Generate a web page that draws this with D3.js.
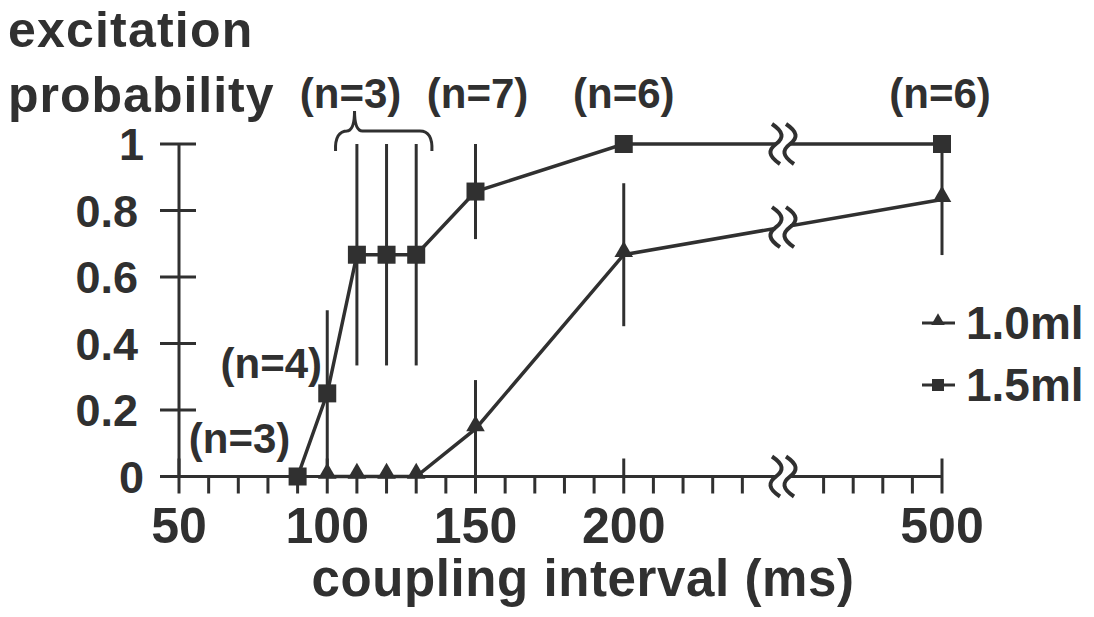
<!DOCTYPE html>
<html>
<head>
<meta charset="utf-8">
<script src="https://cdn.jsdelivr.net/npm/d3@7"></script>
<style>
  body { margin: 0; background: #fff; }
  text { font-family: "Liberation Sans", Arial, sans-serif; font-weight: bold; fill: #303030; }
</style>
</head>
<body>
<div id="chart"></div>
<script>
// 1.5 ml series (squares)
const intervals15 = [90, 100, 110, 120, 130, 150, 200, 500];
const prob15 = [0, 0.25, 0.667, 0.667, 0.667, 0.857, 1, 1];
const err15 = [0, 0.25, 0.333, 0.333, 0.333, 0.143, 0, 0];

// 1.0 ml series (triangles)
const intervals10 = [100, 110, 120, 130, 150, 200, 500];
const prob10 = [0, 0, 0, 0, 0.143, 0.667, 0.833];
const err10 = [0, 0, 0, 0, 0.147, 0.215, 0.167];

const xMajor = [50, 100, 150, 200, 500];
const xMinor = [60, 70, 80, 90, 110, 120, 130, 140, 160, 170, 180, 190, 210, 220, 230, 240, 460, 470, 480, 490];
const yTicks = [0, 0.2, 0.4, 0.6, 0.8, 1];

const nText = ["(n=3)", "(n=4)", "(n=3)", "(n=7)", "(n=6)", "(n=6)"];
const nAt = [90, 100, 120, 150, 200, 500];

const ink = "#303030";
const W = 1094, H = 617;

const svg = d3.select("#chart").append("svg")
    .attr("width", W)
    .attr("height", H);

// broken x axis: 250..450 squeezed into the gap
const x = d3.scaleLinear()
    .domain([50, 250, 450, 500])
    .range([179, 772, 794, 942]);
const breakAt = 350;

const y = d3.scaleLinear()
    .domain([0, 1])
    .range([476.5, 144]);

// x axis line
svg.append("line")
    .attr("x1", x(50)).attr("x2", x(500))
    .attr("y1", y(0)).attr("y2", y(0))
    .attr("stroke", ink).attr("stroke-width", 3);

// x ticks
svg.selectAll(".xmaj")
    .data(xMajor)
    .enter().append("line")
    .attr("x1", d => x(d)).attr("x2", d => x(d))
    .attr("y1", y(0) - 18).attr("y2", y(0) + 17)
    .attr("stroke", ink).attr("stroke-width", 3);

svg.selectAll(".xmin")
    .data(xMinor)
    .enter().append("line")
    .attr("x1", d => x(d)).attr("x2", d => x(d))
    .attr("y1", y(0)).attr("y2", y(0) + 17)
    .attr("stroke", ink).attr("stroke-width", 3);

svg.selectAll(".xlab")
    .data(xMajor)
    .enter().append("text")
    .attr("x", d => x(d))
    .attr("y", 543)
    .attr("text-anchor", "middle")
    .style("font-size", "50px")
    .text(d => d);

// y axis
svg.append("line")
    .attr("x1", x(50)).attr("x2", x(50))
    .attr("y1", y(1)).attr("y2", y(0))
    .attr("stroke", ink).attr("stroke-width", 3);

svg.selectAll(".ytick")
    .data(yTicks)
    .enter().append("line")
    .attr("x1", x(50) - 19).attr("x2", x(50) + 17)
    .attr("y1", d => y(d)).attr("y2", d => y(d))
    .attr("stroke", ink).attr("stroke-width", 3);

svg.selectAll(".ylab")
    .data(yTicks)
    .enter().append("text")
    .attr("x", d => (d === 0 || d === 1) ? 144 : 138)
    .attr("y", d => y(d))
    .attr("dy", "0.36em")
    .attr("text-anchor", "end")
    .style("font-size", "45px")
    .text(d => d === 0 || d === 1 ? d : d.toFixed(1));

// titles
svg.append("text")
    .attr("x", 8).attr("y", 47)
    .style("font-size", "50px")
    .style("letter-spacing", "1.2px")
    .text("excitation");
svg.append("text")
    .attr("x", 8).attr("y", 112)
    .style("font-size", "50px")
    .style("letter-spacing", "1px")
    .text("probability");
svg.append("text")
    .attr("x", 583).attr("y", 596)
    .attr("text-anchor", "middle")
    .style("font-size", "51px")
    .style("letter-spacing", "0.6px")
    .text("coupling interval (ms)");

// error bars
function errBars(xs, ps, es) {
    const d = xs.map((v, i) => ({ x: v, lo: ps[i] - es[i], hi: ps[i] + es[i] })).filter(e => e.hi > e.lo);
    svg.append("g").selectAll("line")
        .data(d)
        .enter().append("line")
        .attr("x1", e => x(e.x)).attr("x2", e => x(e.x))
        .attr("y1", e => y(e.hi)).attr("y2", e => y(e.lo))
        .attr("stroke", ink).attr("stroke-width", 3);
}
errBars(intervals15, prob15, err15);
errBars(intervals10, prob10, err10);

// lines
const line = d3.line().x(d => x(d[0])).y(d => y(d[1]));
const pts15 = intervals15.map((v, i) => [v, prob15[i]]);
const pts10 = intervals10.map((v, i) => [v, prob10[i]]);

svg.append("path")
    .attr("d", line(pts15))
    .attr("fill", "none").attr("stroke", ink).attr("stroke-width", 3.5);
svg.append("path")
    .attr("d", line(pts10))
    .attr("fill", "none").attr("stroke", ink).attr("stroke-width", 3.5);

// markers
const tri = d3.symbol().type(d3.symbolTriangle).size(150);
svg.selectAll(".tri")
    .data(pts10)
    .enter().append("path")
    .attr("d", tri)
    .attr("transform", d => `translate(${x(d[0])},${y(d[1]) - 3})`)
    .attr("fill", ink);

svg.selectAll(".sq")
    .data(pts15)
    .enter().append("rect")
    .attr("x", d => x(d[0]) - 9)
    .attr("y", d => y(d[1]) - 9)
    .attr("width", 18).attr("height", 18)
    .attr("fill", ink);

// break marks
function breakMark(cx, cy) {
    const wave = "M -4,-20 C 8,-12 8,-6 0,0 C -8,6 -8,12 4,20";
    const g = svg.append("g").attr("transform", `translate(${cx},${cy})`);
    g.append("rect")
        .attr("x", -7).attr("y", -5).attr("width", 14).attr("height", 10)
        .attr("fill", "#fff");
    [-7, 7].forEach(dx => {
        g.append("path")
            .attr("d", wave)
            .attr("transform", `translate(${dx},0)`)
            .attr("fill", "none").attr("stroke", ink).attr("stroke-width", 4);
    });
}
const yOnSeg = (pts) => {
    const a = pts[pts.length - 2], b = pts[pts.length - 1];
    const t = (x(breakAt) - x(a[0])) / (x(b[0]) - x(a[0]));
    return y(a[1]) + t * (y(b[1]) - y(a[1]));
};
breakMark(x(breakAt), y(0));
breakMark(x(breakAt), yOnSeg(pts15));
breakMark(x(breakAt), yOnSeg(pts10));

// brace over 110-130 bars
const bx0 = x(102.8), bx1 = x(135.3), bc = x(109.2);
svg.append("path")
    .attr("d", `M ${bx0},151 Q ${bx0 - 1},131 ${bx0 + 12},131 L ${bc - 8},131 Q ${bc},131 ${bc},111
               Q ${bc},131 ${bc + 8},131 L ${bx1 - 12},131 Q ${bx1 + 1},131 ${bx1},151`)
    .attr("fill", "none").attr("stroke", ink).attr("stroke-width", 3);

// n annotations
const nPos = [[-58, 453], [-56, 378], [-36, 108], [2, 108], [0, 108], [-2, 108]];
svg.selectAll(".nlab")
    .data(nText)
    .enter().append("text")
    .attr("x", (d, i) => x(nAt[i]) + nPos[i][0])
    .attr("y", (d, i) => nPos[i][1])
    .attr("text-anchor", "middle")
    .style("font-size", "42px")
    .text(d => d);

// legend
const legend = [
    { label: "1.0ml", y: 323, kind: "tri" },
    { label: "1.5ml", y: 385, kind: "sq" }
];
legend.forEach(l => {
    svg.append("line")
        .attr("x1", 922).attr("x2", 955)
        .attr("y1", l.y).attr("y2", l.y)
        .attr("stroke", ink).attr("stroke-width", 3);
    if (l.kind === "tri") {
        svg.append("path")
            .attr("d", d3.symbol().type(d3.symbolTriangle).size(80))
            .attr("transform", `translate(938,${l.y - 2})`)
            .attr("fill", ink);
    } else {
        svg.append("rect")
            .attr("x", 932).attr("y", l.y - 6)
            .attr("width", 12).attr("height", 12)
            .attr("fill", ink);
    }
    svg.append("text")
        .attr("x", 966).attr("y", l.y + 16)
        .style("font-size", "46px")
        .text(l.label);
});
</script>
</body>
</html>
